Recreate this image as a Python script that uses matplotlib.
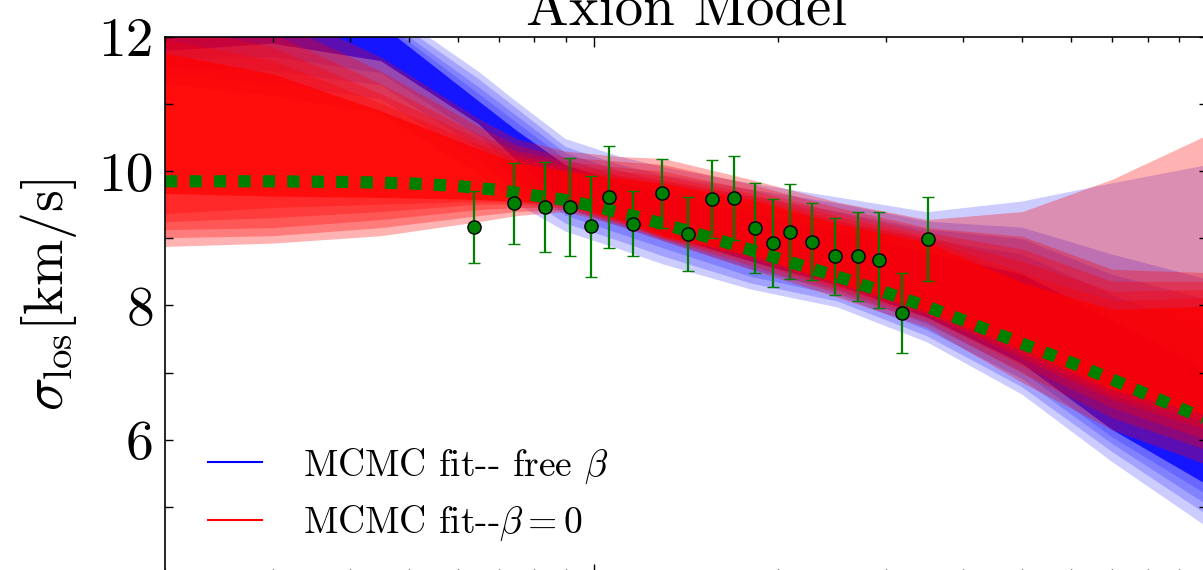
import matplotlib
matplotlib.use('Agg')
import matplotlib.pyplot as plt
from matplotlib.lines import Line2D
from matplotlib.ticker import NullFormatter

plt.rcParams['font.family'] = 'cmr10'
plt.rcParams['mathtext.fontset'] = 'cm'
plt.rcParams['axes.formatter.use_mathtext'] = True

r_band = [0.2, 0.3, 0.45, 0.65, 0.75, 0.9, 1.1, 1.3, 1.8, 2.5, 3.5, 5.0, 7.0, 10.0]

# free beta bands, outer -> inner
free_up = [
    [14.51, 13.46, 12.49, 11.48, 11.03, 10.48, 10.22, 10.06, 9.82, 9.61, 9.39, 9.55, 9.82, 10.09],
    [14.36, 13.31, 12.39, 11.37, 10.93, 10.36, 10.10, 9.94, 9.73, 9.52, 9.25, 9.16, 8.76, 8.39],
    [14.21, 13.16, 12.30, 11.25, 10.82, 10.27, 10.01, 9.85, 9.63, 9.40, 9.13, 8.99, 8.46, 8.09],
    [14.06, 13.01, 12.24, 11.15, 10.72, 10.18, 9.93, 9.76, 9.51, 9.25, 8.99, 8.76, 8.16, 7.64],
    [13.91, 12.87, 12.18, 11.04, 10.60, 10.09, 9.84, 9.66, 9.37, 9.09, 8.79, 8.46, 7.79, 7.04],
]
free_lo = [
    [11.30, 11.12, 10.85, 9.96, 9.51, 9.10, 8.84, 8.61, 8.24, 7.97, 7.45, 6.67, 5.67, 4.70],
    [11.43, 11.30, 11.07, 10.15, 9.69, 9.22, 8.96, 8.73, 8.33, 8.06, 7.54, 6.78, 5.82, 4.88],
    [11.55, 11.49, 11.28, 10.33, 9.85, 9.34, 9.07, 8.85, 8.43, 8.15, 7.63, 6.90, 5.94, 5.03],
    [11.67, 11.70, 11.46, 10.52, 10.00, 9.45, 9.18, 8.96, 8.54, 8.22, 7.72, 7.01, 6.04, 5.18],
    [11.79, 11.90, 11.64, 10.70, 10.15, 9.55, 9.28, 9.06, 8.66, 8.30, 7.82, 7.13, 6.15, 5.33],
]
free_alpha = [0.2, 0.2, 0.2, 0.2, 0.8]

# beta = 0 bands, outer -> inner
iso_up = [
    [12.87, 12.45, 11.70, 10.78, 10.48, 10.30, 10.22, 10.19, 9.88, 9.54, 9.28, 9.40, 9.88, 10.54],
    [12.64, 12.25, 11.49, 10.66, 10.39, 10.21, 10.15, 10.10, 9.81, 9.46, 9.16, 9.03, 8.54, 8.49],
    [12.42, 12.05, 11.30, 10.55, 10.31, 10.15, 10.06, 10.00, 9.73, 9.39, 9.09, 8.84, 8.36, 8.36],
    [12.19, 11.85, 11.15, 10.48, 10.25, 10.09, 10.00, 9.93, 9.67, 9.33, 9.03, 8.66, 8.21, 8.24],
    [11.97, 11.65, 11.01, 10.40, 10.19, 10.04, 9.94, 9.87, 9.63, 9.27, 8.99, 8.49, 8.07, 8.12],
    [11.76, 11.45, 10.90, 10.33, 10.13, 10.00, 9.90, 9.82, 9.58, 9.22, 8.94, 8.34, 7.94, 7.99],
]
iso_lo = [
    [8.88, 8.93, 9.04, 9.25, 9.34, 9.40, 9.19, 8.96, 8.54, 8.12, 7.67, 6.85, 6.15, 5.63],
    [9.01, 9.04, 9.16, 9.34, 9.40, 9.43, 9.22, 8.99, 8.60, 8.18, 7.75, 6.99, 6.33, 5.85],
    [9.13, 9.16, 9.28, 9.43, 9.46, 9.46, 9.24, 9.00, 8.66, 8.24, 7.81, 7.10, 6.48, 6.00],
    [9.25, 9.31, 9.40, 9.51, 9.51, 9.48, 9.25, 9.01, 8.70, 8.28, 7.85, 7.21, 6.60, 6.15],
    [9.37, 9.46, 9.51, 9.55, 9.54, 9.49, 9.27, 9.03, 8.73, 8.31, 7.88, 7.28, 6.67, 6.27],
    [9.67, 9.63, 9.61, 9.58, 9.55, 9.51, 9.28, 9.03, 8.76, 8.34, 7.91, 7.34, 6.75, 6.37],
]
iso_alpha = [0.3, 0.3, 0.3, 0.3, 0.3, 0.7]

# axion model curve
r_model = [0.2, 0.3, 0.4, 0.5, 0.6, 0.7, 0.8, 0.9, 1.0, 1.2, 1.4, 1.7, 2.0,
           2.5, 3.0, 3.5, 4.0, 5.0, 6.0, 7.0, 8.0, 10.0]
sig_model = [9.85, 9.85, 9.84, 9.82, 9.78, 9.72, 9.64, 9.57, 9.48, 9.30, 9.13,
             8.90, 8.70, 8.43, 8.19, 7.98, 7.78, 7.43, 7.15, 6.90, 6.67, 6.30]

# observed dispersion profile
r_obs = [0.637, 0.742, 0.833, 0.915, 0.989, 1.059, 1.159, 1.294, 1.424, 1.561,
         1.692, 1.829, 1.962, 2.093, 2.265, 2.478, 2.692, 2.915, 3.183, 3.509]
sig_obs = [9.17, 9.52, 9.47, 9.47, 9.18, 9.62, 9.22, 9.67, 9.06, 9.59,
           9.60, 9.15, 8.93, 9.10, 8.95, 8.73, 8.73, 8.68, 7.89, 8.99]
err_obs = [0.54, 0.60, 0.67, 0.73, 0.75, 0.76, 0.48, 0.51, 0.55, 0.58,
           0.62, 0.67, 0.66, 0.71, 0.57, 0.57, 0.67, 0.72, 0.60, 0.63]

fig = plt.figure(figsize=(12.03, 5.70), dpi=100)
ax = fig.add_axes([0.1372, -0.0070, 0.8662, 0.9421])

for up, lo, a in zip(free_up, free_lo, free_alpha):
    ax.fill_between(r_band, lo, up, color='b', alpha=a, lw=0)
for up, lo, a in zip(iso_up, iso_lo, iso_alpha):
    ax.fill_between(r_band, lo, up, color='r', alpha=a, lw=0)

ax.plot(r_model, sig_model, color='g', lw=8.8, dashes=(1, 1), dash_capstyle='butt')
ax.errorbar(r_obs, sig_obs, yerr=err_obs, fmt='o', color='g', mfc='g', mec='k',
            ms=9.5, mew=1, elinewidth=1.6, capsize=4.3, capthick=1.6)

ax.set_xscale('log')
ax.set_xlim(0.2, 10)
ax.set_ylim(4, 12)
ax.xaxis.set_minor_formatter(NullFormatter())
ax.set_yticks(range(4, 13))
ax.set_yticklabels([str(v) if v % 2 == 0 and v > 4 else '' for v in range(4, 13)])
ax.tick_params(which='both', direction='in', top=True, right=True, width=1)
ax.tick_params(axis='y', which='major', length=5.8, labelsize=40, pad=8)
ax.tick_params(axis='x', which='major', length=7.2, labelbottom=False)
ax.tick_params(axis='x', which='minor', length=3.6)
for s in ax.spines.values():
    s.set_linewidth(1.2)

ax.set_ylabel(r'$\sigma_{\rm los} [{\rm km/s}]$', fontsize=40)
ax.yaxis.set_label_coords(-0.083, 0.52)
ax.set_title('Axion Model', fontsize=41, pad=6)

handles = [Line2D([], [], color='b', lw=1.5), Line2D([], [], color='r', lw=1.5)]
ax.legend(handles, [r'MCMC fit-- free $\beta$', r'MCMC fit--$\beta=0$'],
          loc='lower left', bbox_to_anchor=(0.041, 0.058), borderaxespad=0,
          borderpad=0, frameon=False, fontsize=27, handlelength=1.44,
          handletextpad=1.09, labelspacing=0.46)

plt.savefig('out.png', dpi=100)
